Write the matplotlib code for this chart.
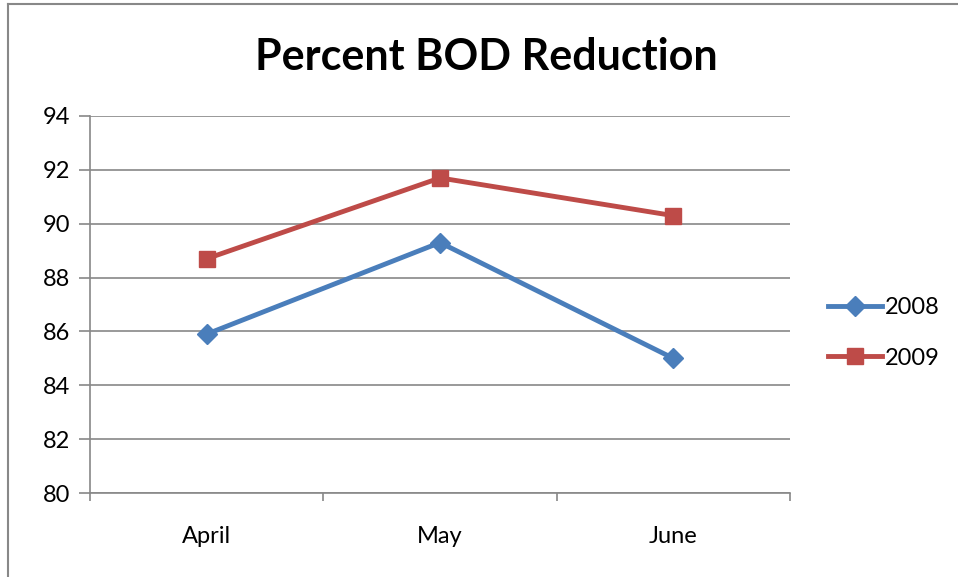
import matplotlib.pyplot as plt
import numpy as np
from matplotlib.lines import Line2D

months = ["April", "May", "June"]
bod_2008 = [85.9, 89.3, 85.0]
bod_2009 = [88.7, 91.7, 90.3]

plt.rcParams["font.family"] = ["Lato", "DejaVu Sans"]

fig = plt.figure(figsize=(9.58, 5.77), dpi=100)
ax = fig.add_axes([90 / 958, 84 / 577, 700 / 958, 377 / 577])

# outer chart frame (left and top edges visible)
fig.add_artist(Line2D([8 / 958, 8 / 958], [0, 1 - 4 / 577], color="#888888", lw=1.5))
fig.add_artist(Line2D([8 / 958, 1], [1 - 4 / 577, 1 - 4 / 577], color="#888888", lw=1.5))

x = np.arange(len(months)) + 0.5
ax.plot(x, bod_2008, color="#4a7ebb", lw=3.5, marker="D", markersize=10,
        markerfacecolor="#4a7ebb", markeredgecolor="#4a7ebb", label="2008")
ax.plot(x, bod_2009, color="#be4b48", lw=3.5, marker="s", markersize=12,
        markerfacecolor="#be4b48", markeredgecolor="#be4b48", label="2009")

ax.set_xlim(0, len(months))
ax.set_ylim(80, 94)
ax.set_yticks(np.arange(80, 95, 2))
ax.set_xticks(np.arange(len(months) + 1))
ax.set_xticklabels([])
ax.set_xticks(x, minor=True)
ax.set_xticklabels(months, minor=True)
ax.tick_params(axis="x", which="minor", length=0, pad=24, labelsize=17)
ax.tick_params(axis="x", which="major", length=6, color="#888888", width=1.2)
ax.tick_params(axis="y", length=8, color="#888888", width=1.2, labelsize=17, pad=6)

ax.grid(axis="y", color="#888888", lw=1.2)
ax.set_axisbelow(True)
for s in ["top", "right"]:
    ax.spines[s].set_visible(False)
for s in ["left", "bottom"]:
    ax.spines[s].set_color("#888888")
    ax.spines[s].set_linewidth(1.2)

fig.text(486 / 958, 1 - 57 / 577, "Percent BOD Reduction", ha="center", va="center",
         fontsize=31, fontweight="bold")

fig.legend(handles=ax.get_lines(), loc="center left", bbox_to_anchor=(828 / 958, 1 - 333 / 577),
           frameon=False, fontsize=17, borderpad=0, borderaxespad=0,
           handlelength=2.3, handletextpad=0.1, labelspacing=1.25)

fig.savefig("out.png", dpi=100)
